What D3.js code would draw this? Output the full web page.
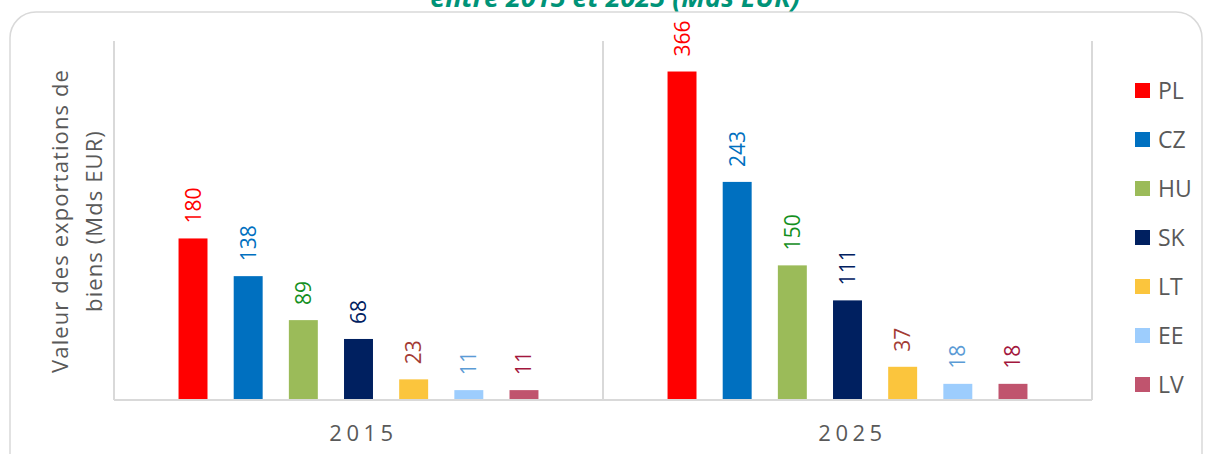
<!DOCTYPE html>
<html>
<head>
<meta charset="utf-8">
<script src="https://cdn.jsdelivr.net/npm/d3@7"></script>
<style>
  body { margin: 0; background: #fff; }
  svg { display: block; font-family: "Open Sans", sans-serif; }
</style>
</head>
<body>
<div class="visualization"></div>
<script>
// data
var years = ["2015", "2025"];
var countries = ["PL", "CZ", "HU", "SK", "LT", "EE", "LV"];
var values2015 = [180, 138, 89, 68, 23, 11, 11];
var values2025 = [366, 243, 150, 111, 37, 18, 18];
var barColors = ["#ff0000", "#0070c0", "#9bbb59", "#002060", "#fbc53d", "#9dcdfd", "#c0546e"];
var labelColors = ["#ff0000", "#0070c0", "#14901e", "#002060", "#a33b34", "#5b9bd5", "#a3173d"];

var width = 1209, height = 454;
var plot = {left: 114, right: 1092, top: 41, bottom: 400};

var svg = d3.select(".visualization").append("svg")
    .attr("width", width)
    .attr("height", height);

// rounded frame
svg.append("rect")
    .attr("x", 10).attr("y", 12)
    .attr("width", 1192).attr("height", 470)
    .attr("rx", 26)
    .attr("fill", "none")
    .attr("stroke", "#d9d9d9")
    .attr("stroke-width", 1.5);

// title (cut off at top, as in the source)
svg.append("text")
    .attr("x", 615).attr("y", 7)
    .attr("text-anchor", "middle")
    .attr("fill", "#009378")
    .style("font-size", "27px")
    .style("font-weight", "bold")
    .style("font-style", "italic")
    .text("entre 2015 et 2025 (Mds EUR)");

var x0 = d3.scaleBand().domain(years).range([plot.left, plot.right]).padding(0);
var x1 = d3.scaleBand().domain(countries).range([0, x0.bandwidth()])
    .paddingInner(0.475).paddingOuter(1.17);
var y = d3.scaleLinear().domain([0, 400]).range([plot.bottom, plot.top]);

// vertical separators
var seps = [plot.left, x0("2025"), plot.right];
svg.selectAll(".sep").data(seps).enter().append("line")
    .attr("class", "sep")
    .attr("x1", function(d){ return d; }).attr("x2", function(d){ return d; })
    .attr("y1", plot.top).attr("y2", plot.bottom)
    .attr("stroke", "#d9d9d9").attr("stroke-width", 2);

var rows = years.map(function(yr, i){
    var vals = i === 0 ? values2015 : values2025;
    return countries.map(function(c, j){ return {year: yr, country: c, value: vals[j], idx: j}; });
});

var groups = svg.selectAll(".grp").data(rows).enter().append("g")
    .attr("class", "grp")
    .attr("transform", function(d, i){ return "translate(" + x0(years[i]) + ",0)"; });

groups.selectAll("rect").data(function(d){ return d; }).enter().append("rect")
    .attr("x", function(d){ return x1(d.country); })
    .attr("width", x1.bandwidth())
    .attr("y", function(d){ return y(d.value); })
    .attr("height", function(d){ return y(0) - y(d.value); })
    .attr("fill", function(d){ return barColors[d.idx]; });

// value labels, rotated
groups.selectAll(".val").data(function(d){ return d; }).enter().append("text")
    .attr("class", "val")
    .attr("transform", function(d){
        var cx = x1(d.country) + x1.bandwidth() / 2;
        return "translate(" + (cx + 7.5) + "," + (y(d.value) - 15) + ") rotate(-90)";
    })
    .attr("fill", function(d){ return labelColors[d.idx]; })
    .style("font-size", "21px")
    .text(function(d){ return d.value; });

// baseline
svg.append("line")
    .attr("x1", plot.left).attr("x2", plot.right)
    .attr("y1", plot.bottom).attr("y2", plot.bottom)
    .attr("stroke", "#d9d9d9").attr("stroke-width", 2);

// x axis labels
var xAxis = svg.append("g")
    .attr("transform", "translate(0," + plot.bottom + ")")
    .call(d3.axisBottom(x0).tickSize(0).tickPadding(25));
xAxis.select(".domain").remove();
xAxis.selectAll("text")
    .attr("fill", "#595959")
    .attr("dx", 5)
    .style("font-size", "22px")
    .style("letter-spacing", "4.5px")
    .style("font-family", "'Open Sans', sans-serif");

// y axis title
var yTitle = svg.append("text")
    .attr("transform", "translate(68,221) rotate(-90)")
    .attr("text-anchor", "middle")
    .attr("fill", "#595959")
    .style("font-size", "22px")
    .style("letter-spacing", "1.1px");
yTitle.append("tspan").attr("x", 0).attr("dy", 0).text("Valeur des exportations de");
yTitle.append("tspan").attr("x", 0).attr("dy", 34).text("biens (Mds EUR)");

// legend
var legend = svg.selectAll(".leg").data(countries).enter().append("g")
    .attr("class", "leg")
    .attr("transform", function(d, i){ return "translate(1135," + (83 + i * 49) + ")"; });
legend.append("rect")
    .attr("width", 15).attr("height", 15)
    .attr("fill", function(d, i){ return barColors[i]; });
legend.append("text")
    .attr("x", 23).attr("y", 16)
    .attr("fill", "#595959")
    .style("font-size", "23px")
    .text(function(d){ return d; });
</script>
</body>
</html>
